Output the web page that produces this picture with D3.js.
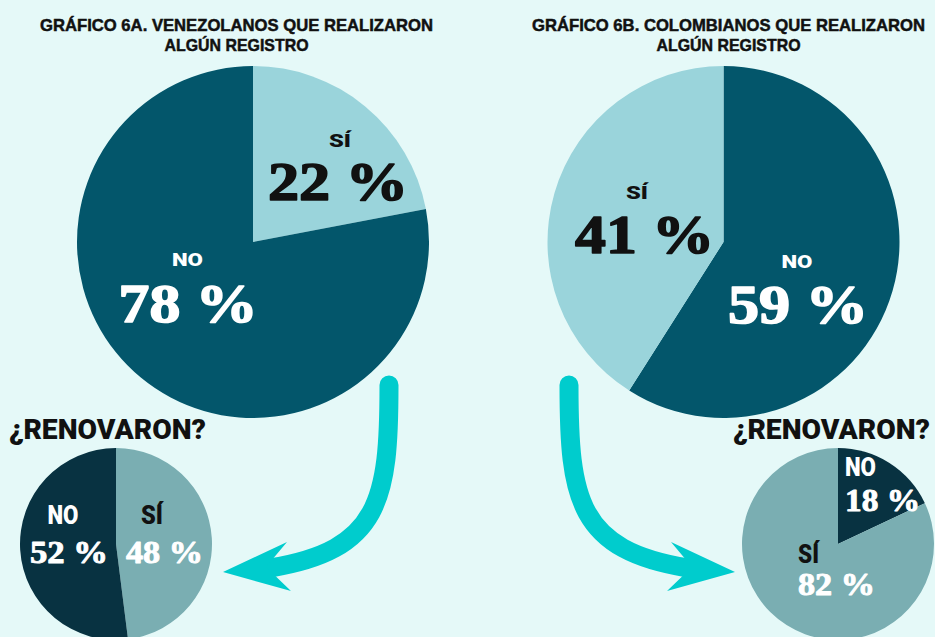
<!DOCTYPE html>
<meta charset="utf-8">
<style>
body { margin: 0; background: #e5f9f8; }
.titulo { font-family: "Liberation Sans", "Arial", sans-serif; font-weight: bold; fill: #111; stroke: #111; stroke-width: 0.5; }
.palabra { font-family: "Roboto", "Liberation Sans", sans-serif; font-weight: 900; }
.numero { font-family: "Liberation Serif", "DejaVu Serif", serif; font-weight: bold; paint-order: stroke; }
</style>
<svg width="935" height="637"></svg>
<script src="https://cdn.jsdelivr.net/npm/d3@7"></script>
<script>

// data
var titulos6A = ["GRÁFICO 6A. VENEZOLANOS QUE REALIZARON", "ALGÚN REGISTRO"];
var titulos6B = ["GRÁFICO 6B. COLOMBIANOS QUE REALIZARON", "ALGÚN REGISTRO"];
var preguntaRenovo = "¿RENOVARON?";

var categorias6A = ["SÍ", "NO"];          // slice order, clockwise from 12
var registro6A = [22, 78];
var renovo6A = [48, 52];

var categorias6B = ["NO", "SÍ"];
var registro6B = [59, 41];
var renovo6B = [18, 82];

var svg = d3.select("svg");

svg.append("rect").attr("width", 935).attr("height", 637).attr("fill", "#e5f9f8");

var colGrande = d3.scaleOrdinal().domain(["SÍ", "NO"]).range(["#9ad4db", "#03566b"]);
var colChico = d3.scaleOrdinal().domain(["SÍ", "NO"]).range(["#7aaeb2", "#083241"]);

var pie = d3.pie().sort(null).value(function(d) { return d.value; });

// layout for the labels (offsets from the pie centre)
// [word dx, word dy, word width, word color, num dx, num dy, num width, num color]
var etiquetas = {
  g6A: { "SÍ": [87, -95, 22, "#111", 85, -42, 140, "#111"],
         "NO": [-65.5, 24, 31, "#fff", -65, 80, 139, "#fff"] },
  g6B: { "SÍ": [-86.5, -43, 22, "#111", -79, 11, 139, "#111"],
         "NO": [73.5, 26, 31, "#fff", 74.5, 81, 140, "#fff"] },
  c6A: { "SÍ": [36, -20, 22, "#111", 48.5, 19, 77, "#fff"],
         "NO": [-53, -20, 31, "#fff", -47, 19, 78, "#fff"] },
  c6B: { "SÍ": [-29.5, 19, 21, "#111", -1.5, 51, 77, "#fff"],
         "NO": [22.5, -68, 31, "#fff", 44.5, -33, 75, "#fff"] }
};

function dibujaPie(cx, cy, r, cats, vals, color, lay, wordSize, numSize, grosor) {
  var data = cats.map(function(c, i) { return { cat: c, value: vals[i] }; });
  var arc = d3.arc().innerRadius(0).outerRadius(r);
  var g = svg.append("g").attr("transform", "translate(" + cx + "," + cy + ")");
  g.selectAll("path")
    .data(pie(data))
    .enter().append("path")
      .attr("d", arc)
      .attr("fill", function(d) { return color(d.data.cat); });

  data.forEach(function(d) {
    var p = lay[d.cat];
    g.append("text").attr("class", "palabra")
      .attr("x", p[0]).attr("y", p[1])
      .attr("text-anchor", "middle")
      .style("font-size", wordSize + "px")
      .attr("fill", p[3])
      .attr("textLength", p[2]).attr("lengthAdjust", "spacingAndGlyphs")
      .text(d.cat);
    g.append("text").attr("class", "numero")
      .attr("x", p[4]).attr("y", p[5])
      .attr("text-anchor", "middle")
      .style("font-size", numSize + "px")
      .attr("fill", p[7])
      .attr("stroke", p[7]).attr("stroke-width", grosor).attr("stroke-linejoin", "round")
      .attr("textLength", p[6]).attr("lengthAdjust", "spacingAndGlyphs")
      .text(d.value + " %");
  });
}

function dibujaTitulo(cx, lineas) {
  var anchos = [393, 144];
  lineas.forEach(function(t, i) {
    svg.append("text").attr("class", "titulo")
      .attr("x", cx).attr("y", 31 + i * 20)
      .attr("text-anchor", "middle")
      .style("font-size", "17px")
      .attr("textLength", anchos[i]).attr("lengthAdjust", "spacingAndGlyphs")
      .text(t);
  });
}

// flecha curva; s = 1 izquierda, -1 derecha (espejo en x = 479)
function dibujaFlecha(s) {
  var fx = function(x) { return 479 + s * (x - 479); };
  var p = d3.path();
  p.moveTo(fx(389), 385);
  p.bezierCurveTo(fx(389), 500, fx(380), 550, fx(270), 568);
  svg.append("path")
    .attr("d", p.toString())
    .attr("fill", "none")
    .attr("stroke", "#00cccd")
    .attr("stroke-width", 19)
    .attr("stroke-linecap", "round");
  var punta = [[223, 572], [287, 542], [266, 567], [291, 591]];
  svg.append("path")
    .attr("d", d3.line()(punta.map(function(q) { return [fx(q[0]), q[1]]; })) + "Z")
    .attr("fill", "#00cccd");
}

dibujaFlecha(1);
dibujaFlecha(-1);

dibujaPie(253, 242, 176, categorias6A, registro6A, colGrande, etiquetas.g6A, 19, 55, 1.6);
dibujaPie(723.5, 242, 176, categorias6B, registro6B, colGrande, etiquetas.g6B, 19, 55, 1.6);
dibujaPie(116, 544, 96, categorias6A, renovo6A, colChico, etiquetas.c6A, 25, 31, 0.9);
dibujaPie(838, 544, 96, categorias6B, renovo6B, colChico, etiquetas.c6B, 25, 31, 0.9);

dibujaTitulo(236.5, titulos6A);
dibujaTitulo(728.5, titulos6B);

[[107.5, 439], [831.5, 439]].forEach(function(pos) {
  svg.append("text").attr("class", "palabra")
    .attr("x", pos[0]).attr("y", pos[1])
    .attr("text-anchor", "middle")
    .style("font-size", "27px")
    .attr("fill", "#111")
    .attr("textLength", 197).attr("lengthAdjust", "spacingAndGlyphs")
    .text(preguntaRenovo);
});

</script>
